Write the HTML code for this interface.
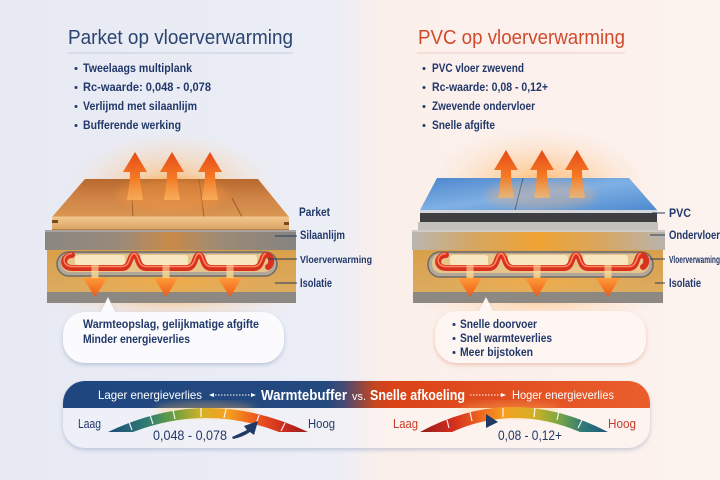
<!DOCTYPE html>
<html><head><meta charset="utf-8">
<style>
html,body{margin:0;padding:0;width:720px;height:480px;overflow:hidden;background:#eceef5;}
svg{display:block;font-family:"Liberation Sans",sans-serif;}
</style></head><body>
<svg width="720" height="480" viewBox="0 0 720 480" xmlns="http://www.w3.org/2000/svg">
<defs>
 <linearGradient id="bg" x1="0" x2="1" y1="0" y2="0">
  <stop offset="0" stop-color="#e7eaf3"/>
  <stop offset="0.47" stop-color="#eceef6"/>
  <stop offset="0.53" stop-color="#fbefea"/>
  <stop offset="1" stop-color="#fcf2ee"/>
 </linearGradient>
 <radialGradient id="glow">
  <stop offset="0" stop-color="#ffa640" stop-opacity="0.8"/>
  <stop offset="0.5" stop-color="#ffbe78" stop-opacity="0.4"/>
  <stop offset="1" stop-color="#ffd6b0" stop-opacity="0"/>
 </radialGradient>
 <radialGradient id="glow2">
  <stop offset="0" stop-color="#ffb040" stop-opacity="0.9"/>
  <stop offset="1" stop-color="#ffb040" stop-opacity="0"/>
 </radialGradient>
 <linearGradient id="upA" x1="0" y1="0" x2="0" y2="1">
  <stop offset="0" stop-color="#e64a16"/>
  <stop offset="0.55" stop-color="#f57a24"/>
  <stop offset="1" stop-color="#ffb860" stop-opacity="0.7"/>
 </linearGradient>
 <linearGradient id="dnA" x1="0" y1="0" x2="0" y2="1">
  <stop offset="0" stop-color="#ff9a3a"/>
  <stop offset="1" stop-color="#ec5a14"/>
 </linearGradient>
 <linearGradient id="beam" x1="0" y1="0" x2="0" y2="1">
  <stop offset="0" stop-color="#fff2c0" stop-opacity="0.4"/>
  <stop offset="1" stop-color="#ffd080" stop-opacity="0.9"/>
 </linearGradient>
 <linearGradient id="woodTop" x1="0" y1="0" x2="0" y2="1">
  <stop offset="0" stop-color="#b8692e"/>
  <stop offset="0.5" stop-color="#cf8446"/>
  <stop offset="1" stop-color="#d99652"/>
 </linearGradient>
 <linearGradient id="woodFront" x1="0" y1="0" x2="0" y2="1">
  <stop offset="0" stop-color="#f0c68c"/>
  <stop offset="1" stop-color="#d9a462"/>
 </linearGradient>
 <linearGradient id="silaan" x1="0" y1="0" x2="1" y2="0">
  <stop offset="0" stop-color="#8a8783"/>
  <stop offset="0.3" stop-color="#9a8a78"/>
  <stop offset="0.5" stop-color="#c98a48"/>
  <stop offset="0.7" stop-color="#9c8a76"/>
  <stop offset="1" stop-color="#868380"/>
 </linearGradient>
 <linearGradient id="onder" x1="0" y1="0" x2="1" y2="0">
  <stop offset="0" stop-color="#b9b6b1"/>
  <stop offset="0.25" stop-color="#d6a660"/>
  <stop offset="0.5" stop-color="#f0a434"/>
  <stop offset="0.75" stop-color="#d9a660"/>
  <stop offset="1" stop-color="#b7b4af"/>
 </linearGradient>
 <linearGradient id="sand" x1="0" y1="0" x2="0" y2="1">
  <stop offset="0" stop-color="#d9a04a"/>
  <stop offset="1" stop-color="#dcae66"/>
 </linearGradient>
 <linearGradient id="pvcTop" x1="0" y1="0" x2="1" y2="1">
  <stop offset="0" stop-color="#4c86cc"/>
  <stop offset="0.5" stop-color="#7fb0e4"/>
  <stop offset="1" stop-color="#4f8bd0"/>
 </linearGradient>
 <linearGradient id="hdr" gradientUnits="userSpaceOnUse" x1="63" y1="0" x2="650" y2="0">
  <stop offset="0" stop-color="#1f467f"/>
  <stop offset="0.45" stop-color="#24497f"/>
  <stop offset="0.48" stop-color="#4a4a72"/>
  <stop offset="0.53" stop-color="#c4461f"/>
  <stop offset="0.56" stop-color="#da4318"/>
  <stop offset="1" stop-color="#ea5e2c"/>
 </linearGradient>
 <linearGradient id="body" gradientUnits="userSpaceOnUse" x1="63" y1="0" x2="650" y2="0">
  <stop offset="0" stop-color="#eef0f7"/>
  <stop offset="0.48" stop-color="#f1f1f6"/>
  <stop offset="0.55" stop-color="#fcf2ee"/>
  <stop offset="1" stop-color="#fdf4f0"/>
 </linearGradient>
 <linearGradient id="g1" gradientUnits="userSpaceOnUse" x1="108" y1="0" x2="308" y2="0">
  <stop offset="0" stop-color="#1c4a7c"/>
  <stop offset="0.2" stop-color="#2f7e72"/>
  <stop offset="0.33" stop-color="#6aa040"/>
  <stop offset="0.47" stop-color="#d6b024"/>
  <stop offset="0.6" stop-color="#f6a020"/>
  <stop offset="0.75" stop-color="#ec5520"/>
  <stop offset="0.88" stop-color="#cc2c1e"/>
  <stop offset="1" stop-color="#951c1e"/>
 </linearGradient>
 <linearGradient id="g2" gradientUnits="userSpaceOnUse" x1="420" y1="0" x2="608" y2="0">
  <stop offset="0" stop-color="#951c1e"/>
  <stop offset="0.18" stop-color="#d42e1e"/>
  <stop offset="0.33" stop-color="#f06a20"/>
  <stop offset="0.45" stop-color="#f6a020"/>
  <stop offset="0.6" stop-color="#d6b024"/>
  <stop offset="0.73" stop-color="#80a842"/>
  <stop offset="0.87" stop-color="#2f7a78"/>
  <stop offset="1" stop-color="#1e5680"/>
 </linearGradient>
 <filter id="sh" x="-10%" y="-20%" width="120%" height="150%">
  <feDropShadow dx="0" dy="2" stdDeviation="2" flood-color="#8f9cc0" flood-opacity="0.5"/>
 </filter>
 <filter id="shw" x="-10%" y="-20%" width="120%" height="150%">
  <feDropShadow dx="0" dy="2" stdDeviation="2" flood-color="#e0a890" flood-opacity="0.6"/>
 </filter>
 <filter id="blur4"><feGaussianBlur stdDeviation="4"/></filter>
 <path id="up" d="M0,0 L12,20 L5,20 C5,32 7,40 8,48 L-8,48 C-7,40 -5,32 -5,20 L-12,20 Z" fill="url(#upA)"/>
 <g id="dn">
  <rect x="-3.5" y="-14" width="7" height="14" fill="url(#beam)"/>
  <path d="M-12,0 L12,0 L0,19 Z" fill="url(#dnA)"/>
 </g>
 <clipPath id="bclip"><path d="M85,381 H628 A22,22 0 0 1 650,403 V426 A22,22 0 0 1 628,448 H85 A22,22 0 0 1 63,426 V403 A22,22 0 0 1 85,381 Z"/></clipPath>
</defs>

<rect width="720" height="480" fill="url(#bg)"/>

<!-- Titles -->
<text x="68" y="44" font-size="20" fill="#2b4470" textLength="225" lengthAdjust="spacingAndGlyphs">Parket op vloerverwarming</text>
<line x1="68" y1="53" x2="293" y2="53" stroke="#c6cbdc" stroke-width="1"/>
<text x="418" y="44" font-size="20" fill="#d24a2c" textLength="207" lengthAdjust="spacingAndGlyphs">PVC op vloerverwarming</text>
<line x1="417" y1="53" x2="625" y2="53" stroke="#efd0c6" stroke-width="1"/>

<g font-size="11.5" font-weight="bold" fill="#22386a">
 <circle cx="76" cy="68.5" r="1.5"/><text x="83" y="72" textLength="109" lengthAdjust="spacingAndGlyphs">Tweelaags multiplank</text>
 <circle cx="76" cy="87.5" r="1.5"/><text x="83" y="91" textLength="128" lengthAdjust="spacingAndGlyphs">Rc-waarde: 0,048 - 0,078</text>
 <circle cx="76" cy="106.5" r="1.5"/><text x="83" y="110" textLength="114" lengthAdjust="spacingAndGlyphs">Verlijmd met silaanlijm</text>
 <circle cx="76" cy="125.5" r="1.5"/><text x="83" y="129" textLength="98" lengthAdjust="spacingAndGlyphs">Bufferende werking</text>

 <circle cx="424" cy="68.5" r="1.5"/><text x="432" y="72" textLength="92" lengthAdjust="spacingAndGlyphs">PVC vloer zwevend</text>
 <circle cx="424" cy="87.5" r="1.5"/><text x="432" y="91" textLength="116" lengthAdjust="spacingAndGlyphs">Rc-waarde: 0,08 - 0,12+</text>
 <circle cx="424" cy="106.5" r="1.5"/><text x="432" y="110" textLength="103" lengthAdjust="spacingAndGlyphs">Zwevende ondervloer</text>
 <circle cx="424" cy="125.5" r="1.5"/><text x="432" y="129" textLength="63" lengthAdjust="spacingAndGlyphs">Snelle afgifte</text>
</g>

<!-- ============ LEFT DIAGRAM ============ -->
<ellipse cx="172" cy="190" rx="105" ry="58" fill="url(#glow)"/>
<ellipse cx="172" cy="300" rx="130" ry="22" fill="url(#glow)" opacity="0.6"/>
<!-- lower block -->
<rect x="47" y="250" width="249" height="53" fill="url(#sand)"/>
<ellipse cx="170" cy="282" rx="110" ry="16" fill="url(#glow2)" opacity="0.6"/>
<rect x="47" y="292" width="249" height="11" fill="#8d8882"/>
<rect x="57" y="252" width="220" height="24" rx="12" fill="#b3a898" stroke="#6f6a66" stroke-width="1.5"/>
<rect x="61" y="254" width="212" height="18" rx="9" fill="#e6c48a"/>
<rect x="75" y="255" width="50" height="11" rx="3" fill="#f8e6c0"/>
<rect x="140" y="255" width="48" height="11" rx="3" fill="#f8e6c0"/>
<rect x="205" y="255" width="52" height="11" rx="3" fill="#f8e6c0"/>
<path d="M72,255 C62,255 61,268 72,268 L122,268 C131,268 129,255 134,255 C139,255 137,268 146,268 L187,268 C196,268 194,255 199,255 C204,255 202,268 211,268 L254,268 C263,268 261,255 266,255 C272,255 273,264 268,267" fill="none" stroke="#d8321e" stroke-width="6" stroke-linecap="round"/>
<path d="M72,255 C62,255 61,268 72,268 L122,268 C131,268 129,255 134,255 C139,255 137,268 146,268 L187,268 C196,268 194,255 199,255 C204,255 202,268 211,268 L254,268 C263,268 261,255 266,255" fill="none" stroke="#ff8a62" stroke-width="1.5" transform="translate(0,-1.5)"/>
<use href="#dn" x="95" y="278"/>
<use href="#dn" x="166" y="278"/>
<use href="#dn" x="230" y="278"/>
<!-- silaanlijm -->
<rect x="45" y="230" width="251" height="20" fill="url(#silaan)"/>
<rect x="45" y="230" width="251" height="2" fill="#a7a4a0"/>
<!-- wood -->
<rect x="52" y="217" width="237" height="13" fill="url(#woodFront)"/>
<line x1="52" y1="229.5" x2="289" y2="229.5" stroke="#b58046" stroke-width="1"/>
<rect x="52" y="220" width="6" height="3" fill="#7a4a24"/>
<rect x="284" y="222" width="5" height="3" fill="#7a4a24"/>
<polygon points="85,179 258,179 289,217 52,217" fill="url(#woodTop)"/>
<g stroke="#8e5024" stroke-width="1" opacity="0.8">
 <line x1="131" y1="179" x2="133" y2="217"/>
 <line x1="199" y1="179" x2="204" y2="217"/>
 <line x1="232" y1="198" x2="242" y2="217"/>
</g>
<line x1="52" y1="217" x2="289" y2="217" stroke="#f2c690" stroke-width="1"/>
<ellipse cx="172" cy="195" rx="55" ry="16" fill="#ff9a40" opacity="0.35" filter="url(#blur4)"/>
<use href="#up" x="135" y="152"/>
<use href="#up" x="172" y="152"/>
<use href="#up" x="210" y="152"/>
<!-- left labels -->
<g stroke="#2a3a5a" stroke-width="1">
 <line x1="275" y1="236" x2="297" y2="236"/>
 <line x1="268" y1="259" x2="297" y2="259"/>
 <line x1="275" y1="283" x2="297" y2="283"/>
</g>
<g font-size="11.5" font-weight="bold" fill="#22386a">
 <text x="299" y="216" textLength="31" lengthAdjust="spacingAndGlyphs">Parket</text>
 <text x="300" y="239" textLength="45" lengthAdjust="spacingAndGlyphs">Silaanlijm</text>
 <text x="300" y="263" font-size="10.5" textLength="72" lengthAdjust="spacingAndGlyphs">Vloerverwarming</text>
 <text x="300" y="287" textLength="32" lengthAdjust="spacingAndGlyphs">Isolatie</text>
</g>

<!-- ============ RIGHT DIAGRAM ============ -->
<ellipse cx="541" cy="188" rx="110" ry="60" fill="url(#glow)"/>
<ellipse cx="538" cy="300" rx="130" ry="22" fill="url(#glow)" opacity="0.6"/>
<rect x="413" y="250" width="250" height="53" fill="url(#sand)"/>
<ellipse cx="538" cy="282" rx="110" ry="16" fill="url(#glow2)" opacity="0.6"/>
<rect x="413" y="292" width="250" height="11" fill="#8d8882"/>
<rect x="428" y="252" width="225" height="25" rx="12" fill="#b3a898" stroke="#6f6a66" stroke-width="1.5"/>
<rect x="432" y="254" width="217" height="19" rx="9" fill="#e6c48a"/>
<rect x="450" y="255" width="38" height="11" rx="3" fill="#f8e6c0"/>
<rect x="508" y="255" width="60" height="11" rx="3" fill="#f8e6c0"/>
<rect x="583" y="255" width="45" height="11" rx="3" fill="#f8e6c0"/>
<path d="M446,255 C436,255 435,268 446,268 L489,268 C498,268 496,255 501,255 C506,255 504,268 513,268 L564,268 C573,268 571,255 576,255 C581,255 579,268 588,268 L629,268 C638,268 636,255 641,255 C647,255 648,264 643,267" fill="none" stroke="#d8321e" stroke-width="6" stroke-linecap="round"/>
<path d="M446,255 C436,255 435,268 446,268 L489,268 C498,268 496,255 501,255 C506,255 504,268 513,268 L564,268 C573,268 571,255 576,255 C581,255 579,268 588,268 L629,268 C638,268 636,255 641,255" fill="none" stroke="#ff8a62" stroke-width="1.5" transform="translate(0,-1.5)"/>
<use href="#dn" x="470" y="278"/>
<use href="#dn" x="537" y="278"/>
<use href="#dn" x="608" y="278"/>
<!-- ondervloer -->
<rect x="412" y="230" width="253" height="20" fill="url(#onder)"/>
<rect x="412" y="230" width="253" height="2" fill="#cfccc8"/>
<!-- pvc layers -->
<rect x="418" y="222" width="240" height="8" fill="#c4c1bd"/>
<rect x="420" y="213" width="237" height="9" fill="#3f3f42"/>
<rect x="420" y="210" width="237" height="3" fill="#d4d8de"/>
<polygon points="437,178 629,178 657,210 420,210" fill="url(#pvcTop)"/>
<line x1="523" y1="178" x2="515" y2="210" stroke="#2a5a9a" stroke-width="1"/>
<ellipse cx="541" cy="195" rx="55" ry="14" fill="#ffb070" opacity="0.3" filter="url(#blur4)"/>
<use href="#up" x="506" y="150"/>
<use href="#up" x="542" y="150"/>
<use href="#up" x="577" y="150"/>
<g stroke="#2a3a5a" stroke-width="1">
 <line x1="652" y1="213" x2="665" y2="213"/>
 <line x1="650" y1="235" x2="665" y2="235"/>
 <line x1="650" y1="259" x2="665" y2="259"/>
 <line x1="655" y1="283" x2="665" y2="283"/>
</g>
<g font-size="11.5" font-weight="bold" fill="#22386a">
 <text x="669" y="217" textLength="22" lengthAdjust="spacingAndGlyphs">PVC</text>
 <text x="669" y="239" textLength="51" lengthAdjust="spacingAndGlyphs">Ondervloer</text>
 <text x="669" y="263" font-size="10.5" textLength="51" lengthAdjust="spacingAndGlyphs">Vloerverwaming</text>
 <text x="669" y="287" textLength="32" lengthAdjust="spacingAndGlyphs">Isolatie</text>
</g>

<!-- ============ CALLOUTS ============ -->
<g filter="url(#sh)">
 <rect x="63" y="312" width="221" height="51" rx="22" fill="#fbfbfd"/>
 <polygon points="100,314 108,297 116,314" fill="#fbfbfd"/>
</g>
<g font-size="11.5" font-weight="bold" fill="#22386a">
 <text x="83" y="328" textLength="176" lengthAdjust="spacingAndGlyphs">Warmteopslag, gelijkmatige afgifte</text>
 <text x="83" y="343" textLength="107" lengthAdjust="spacingAndGlyphs">Minder energieverlies</text>
</g>
<g filter="url(#shw)">
 <rect x="435" y="311" width="211" height="52" rx="22" fill="#fdf6f3"/>
 <polygon points="478,313 486,297 494,313" fill="#fdf6f3"/>
</g>
<g font-size="11.5" font-weight="bold" fill="#22386a">
 <circle cx="454" cy="324.5" r="1.5"/><text x="460" y="328" textLength="77" lengthAdjust="spacingAndGlyphs">Snelle doorvoer</text>
 <circle cx="454" cy="338.5" r="1.5"/><text x="460" y="342" textLength="92" lengthAdjust="spacingAndGlyphs">Snel warmteverlies</text>
 <circle cx="454" cy="352.5" r="1.5"/><text x="460" y="356" textLength="73" lengthAdjust="spacingAndGlyphs">Meer bijstoken</text>
</g>

<!-- ============ BANNER ============ -->
<path d="M85,381 H628 A22,22 0 0 1 650,403 V426 A22,22 0 0 1 628,448 H85 A22,22 0 0 1 63,426 V403 A22,22 0 0 1 85,381 Z" fill="url(#body)" filter="url(#sh)"/>
<g clip-path="url(#bclip)">
 <rect x="60" y="378" width="595" height="30" fill="url(#hdr)"/>
 <ellipse cx="205" cy="410" rx="50" ry="8" fill="#ffc060" opacity="0.35" filter="url(#blur4)"/>
 <ellipse cx="510" cy="410" rx="50" ry="8" fill="#ffc060" opacity="0.35" filter="url(#blur4)"/>
</g>
<text x="98" y="399" font-size="12" fill="#ffffff" textLength="104" lengthAdjust="spacingAndGlyphs">Lager energieverlies</text>
<g stroke="#ffffff" stroke-width="1" fill="#ffffff">
 <line x1="212" y1="395" x2="252" y2="395" stroke-dasharray="1.5,1.5"/>
 <polygon points="209,395 214,393 214,397" stroke="none"/>
 <polygon points="256,395 251,393 251,397" stroke="none"/>
 <line x1="470" y1="395" x2="502" y2="395" stroke-dasharray="1.5,1.5"/>
 <polygon points="506,395 501,393 501,397" stroke="none"/>
</g>
<text x="261" y="400" font-size="15" font-weight="bold" fill="#ffffff" textLength="86" lengthAdjust="spacingAndGlyphs">Warmtebuffer</text>
<text x="352" y="400" font-size="11" fill="#ffffff" textLength="14" lengthAdjust="spacingAndGlyphs">vs.</text>
<text x="370" y="400" font-size="15" font-weight="bold" fill="#ffffff" textLength="95" lengthAdjust="spacingAndGlyphs">Snelle afkoeling</text>
<text x="512" y="399" font-size="12" fill="#ffffff" textLength="102" lengthAdjust="spacingAndGlyphs">Hoger energieverlies</text>

<!-- left gauge -->
<path d="M108,432 Q208,384 308,432 L279,432 Q206,404 133,432 Z" fill="url(#g1)"/>
<g stroke="#ffffff" stroke-width="1.2" opacity="0.9">
 <line x1="132" y1="430" x2="129" y2="422"/>
 <line x1="153" y1="424" x2="150" y2="415"/>
 <line x1="175" y1="419" x2="173" y2="410"/>
 <line x1="201" y1="417" x2="201" y2="408"/>
 <line x1="224" y1="418" x2="226" y2="409"/>
 <line x1="256" y1="424" x2="259" y2="415"/>
 <line x1="281" y1="431" x2="285" y2="423"/>
</g>
<text x="78" y="428" font-size="13" fill="#22386a" textLength="23" lengthAdjust="spacingAndGlyphs">Laag</text>
<text x="308" y="428" font-size="13" fill="#22386a" textLength="27" lengthAdjust="spacingAndGlyphs">Hoog</text>
<text x="153" y="440" font-size="14" fill="#22386a" textLength="74" lengthAdjust="spacingAndGlyphs">0,048 - 0,078</text>
<path d="M232,437 Q241,433 247,430 L244,426 L258,421 L254,435 L250,432 Q243,437 233,439 Z" fill="#1f3a66"/>

<!-- right gauge -->
<path d="M420,432 Q512,382 608,432 L580,432 Q514,404 452,432 Z" fill="url(#g2)"/>
<g stroke="#ffffff" stroke-width="1.2" opacity="0.9">
 <line x1="449" y1="428" x2="447" y2="420"/>
 <line x1="472" y1="421" x2="470" y2="412"/>
 <line x1="503" y1="417" x2="503" y2="408"/>
 <line x1="534" y1="417" x2="535" y2="408"/>
 <line x1="557" y1="420" x2="559" y2="411"/>
 <line x1="578" y1="428" x2="582" y2="420"/>
</g>
<polygon points="486,414 486,428 498,422" fill="#1f3a66"/>
<text x="393" y="428" font-size="13" fill="#c43a2a" textLength="25" lengthAdjust="spacingAndGlyphs">Laag</text>
<text x="608" y="428" font-size="13" fill="#c43a2a" textLength="28" lengthAdjust="spacingAndGlyphs">Hoog</text>
<text x="498" y="440" font-size="14" fill="#22386a" textLength="64" lengthAdjust="spacingAndGlyphs">0,08 - 0,12+</text>
</svg>
</body></html>
